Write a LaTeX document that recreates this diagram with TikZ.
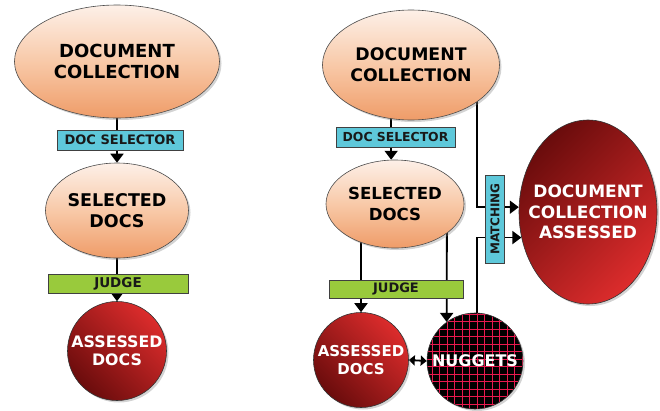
\documentclass[tikz,border=0pt]{standalone}
\usepackage{fontspec}
\setmainfont{DejaVu Sans}
\usetikzlibrary{shapes.geometric,arrows.meta,shadows,backgrounds}
\definecolor{peachT}{HTML}{FDF0E8}
\definecolor{peachM}{HTML}{F8C9A8}
\definecolor{peachB}{HTML}{EF9C68}
\definecolor{redBright}{HTML}{DC2C2C}
\definecolor{redDark}{HTML}{6A0C0C}
\definecolor{cyanBox}{HTML}{5EC8DA}
\definecolor{greenBox}{HTML}{99CA3C}
\definecolor{gridRed}{HTML}{E8194E}
\begin{document}
\begin{tikzpicture}[x=1pt,y=-1pt,
  shadowed/.style={drop shadow={shadow xshift=2pt,shadow yshift=-2pt,opacity=0.35}},
  orangeell/.style={ellipse, draw=black!70, line width=0.6pt, inner sep=-8pt, align=center,
    top color=peachT, bottom color=peachB, middle color=peachM, text=black, shadowed},
  redell/.style={draw=black!80, line width=0.6pt, inner sep=-8pt, align=center, text=white, shadowed},
  redNE/.style={top color=redBright, bottom color=redDark, shading angle=-45},
  redSE/.style={top color=redDark, bottom color=redBright, shading angle=45},
  nuggetball/.style={circle, draw=black!80, line width=0.6pt, inner sep=-8pt, fill=black, text=white, shadowed,
    path picture={\draw[gridRed, line width=1pt] ([xshift=-3pt,yshift=-3pt]path picture bounding box.south west) grid[step=7.5pt] (path picture bounding box.north east);}},
  labelbox/.style={draw=black!75, line width=0.6pt, inner sep=0pt, text=black!90},
  arr/.style={line width=1.8pt, -{Triangle[width=13pt,length=9pt]}},
  dblarr/.style={line width=1.8pt, {Triangle[width=10pt,length=6pt]}-{Triangle[width=10pt,length=6pt]}}
]
\useasboundingbox (0,0) rectangle (660,410);

% ---------- left column ----------
\node[orangeell, minimum width=205pt, minimum height=113pt, font=\bfseries\fontsize{18}{21}\selectfont] (ldc) at (117,61.5) {DOCUMENT\\COLLECTION};
\node[labelbox, fill=cyanBox, minimum width=126pt, minimum height=20pt, font=\bfseries\fontsize{13}{15}\selectfont] (lsel) at (120,140) {DOC SELECTOR};
\node[orangeell, minimum width=143pt, minimum height=95pt, font=\bfseries\fontsize{17.5}{21}\selectfont] (lsd) at (117,210.5) {SELECTED\\DOCS};
\node[labelbox, fill=greenBox, minimum width=140pt, minimum height=19pt, font=\bfseries\fontsize{13.5}{15}\selectfont] (ljudge) at (118,283.5) {JUDGE};
\node[redell, redNE, circle, minimum size=99pt, font=\bfseries\fontsize{15.8}{18}\selectfont] (lad) at (117,351) {ASSESSED\\DOCS};

% ---------- right column ----------
\node[orangeell, minimum width=177pt, minimum height=110pt, font=\bfseries\fontsize{17.3}{21}\selectfont] (rdc) at (411,65) {DOCUMENT\\COLLECTION};
\node[labelbox, fill=cyanBox, minimum width=119pt, minimum height=20pt, font=\bfseries\fontsize{12.4}{15}\selectfont] (rsel) at (395.5,137) {DOC SELECTOR};
\node[orangeell, minimum width=138pt, minimum height=88pt, font=\bfseries\fontsize{16.6}{21}\selectfont] (rsd) at (395,204) {SELECTED\\DOCS};
\node[labelbox, fill=greenBox, minimum width=134pt, minimum height=18pt, font=\bfseries\fontsize{13}{15}\selectfont] (rjudge) at (396,289) {JUDGE};
\node[redell, redNE, circle, minimum size=95pt, font=\bfseries\fontsize{15}{18}\selectfont] (rad) at (361,360) {ASSESSED\\DOCS};
\node[nuggetball, minimum size=96pt, font=\bfseries\fontsize{16}{18}\selectfont] (nug) at (475,361) {NUGGETS};
\node[redell, redSE, ellipse, inner xsep=-14pt, minimum width=138pt, minimum height=184pt, font=\bfseries\fontsize{17}{20.5}\selectfont] (dca) at (588,212) {DOCUMENT\\COLLECTION\\ASSESSED};
\node[labelbox, fill=cyanBox, rotate=90, minimum width=88pt, minimum height=19pt, font=\bfseries\fontsize{12}{14}\selectfont] (match) at (495,219) {MATCHING};

\coordinate (vx) at (477,0);
\coordinate (jx) at (447,0);

\begin{pgfonlayer}{background}
  % left
  \draw[arr] (ldc.south) -- (lsd.north);
  \draw[arr] (lsd.south) -- (lad.north);
  % right
  \draw[arr] (rsd.95 |- rdc.center) -- (rsd.95);
  \draw[arr] (rad.north |- rsd.center) -- (rad.north);
  \draw[arr] (jx |- rsd.center) -- (nug.126);
  \draw[arr] (vx |- rdc.center) -- (vx |- dca.176) -- (dca.176);
  \draw[arr] (vx |- nug.center) -- (vx |- dca.201) -- (dca.201);
  \draw[dblarr] (rad.east) -- (nug.west);
\end{pgfonlayer}
\end{tikzpicture}
\end{document}
